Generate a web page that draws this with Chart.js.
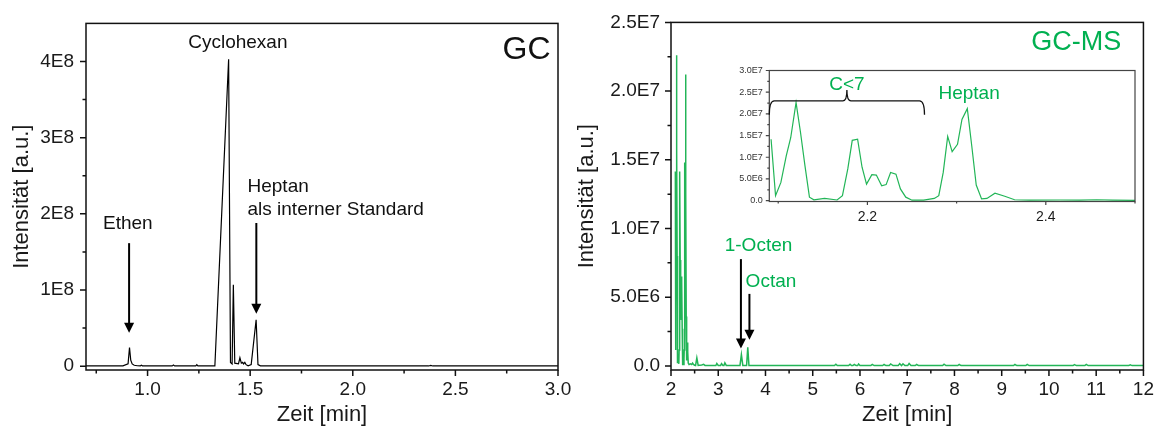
<!DOCTYPE html>
<html lang="de">
<head>
<meta charset="UTF-8">
<title>GC / GC-MS</title>
<script src="https://cdn.jsdelivr.net/npm/chart.js"></script>
<style>
  body { margin: 0; background: #fff; }
  #wrap { position: relative; width: 1162px; height: 430px; }
  #wrap canvas { position: absolute; }
</style>
</head>
<body>
<div id="wrap">
  <canvas id="gcChart" width="580" height="430" style="left:0px;top:0px"></canvas>
  <canvas id="msChart" width="588" height="430" style="left:574px;top:0px"></canvas>
  <canvas id="insetChart" width="415" height="170" style="left:730px;top:55px"></canvas>
</div>
<script>
// GC chromatogram (black)
const gcTime = [0.70, 0.80, 0.88, 0.905, 0.912, 0.918, 0.925, 0.935, 0.95, 0.965, 0.97, 0.975, 1.05, 1.12, 1.126, 1.132,
  1.20, 1.235, 1.24, 1.245, 1.30, 1.328, 1.395, 1.404, 1.412, 1.418, 1.425, 1.443, 1.45, 1.457, 1.463, 1.468, 1.474,
  1.48, 1.49, 1.505, 1.529, 1.538, 1.55, 1.80, 2.10, 2.37, 2.38, 2.39, 2.70, 3.00];
const gcSignal = [3e5, 3e5, 4e5, 3e6, 2.45e7, 8e6, 3e6, 1.2e6, 6e5, 5e5, 1.2e6, 4e5, 3e5, 4e5, 1.5e6, 4e5,
  3e5, 5e5, 2e6, 5e5, 4e5, 5e5, 4.03e8, 5e6, 3e6, 1.07e8, 4e6, 3e6, 1.1e7, 4e6, 5e6, 3e6, 5e6,
  2e6, 5e5, 2e6, 6.1e7, 2e6, 5e5, 3e5, 3e5, 3e5, 1e6, 3e5, 3e5, 3e5];

// GC-MS chromatogram (green), also used for the zoomed inset
const msTime = [2.092, 2.097, 2.103, 2.109, 2.114, 2.120, 2.125, 2.130, 2.135, 2.140, 2.152, 2.166, 2.172, 2.178,
  2.183, 2.189, 2.194, 2.199, 2.205, 2.210, 2.216, 2.221, 2.226, 2.232, 2.237, 2.243, 2.250, 2.263, 2.275, 2.280,
  2.285, 2.290, 2.295, 2.301, 2.306, 2.312, 2.317, 2.322, 2.328, 2.334, 2.343, 2.354, 2.365, 2.382, 2.416, 2.438,
  2.457, 2.475, 2.500, 2.52, 2.547, 2.575, 2.65, 2.69, 2.72, 2.85, 2.95, 2.97, 3.00, 3.05, 3.07, 3.10, 3.12, 3.14,
  3.17, 3.30, 3.46, 3.49, 3.52, 3.60, 3.625, 3.65, 4.00, 4.50, 5.00, 5.46, 5.49, 5.52, 5.76, 5.79, 5.82, 5.85,
  5.88, 5.92, 5.95, 5.97, 6.00, 6.23, 6.26, 6.30, 6.48, 6.51, 6.55, 6.62, 6.65, 6.70, 6.81, 6.84, 6.88, 6.91,
  6.95, 7.01, 7.04, 7.08, 7.17, 7.20, 7.24, 7.75, 7.78, 7.82, 8.07, 8.10, 8.14, 9.25, 9.28, 9.32, 9.51, 9.54,
  9.58, 10.51, 10.54, 10.58, 10.76, 10.79, 10.83, 11.69, 11.72, 11.76, 12.00];
const msSignal = [1.415e7, 1.15e6, 4.2e6, 1.03e7, 1.45e7, 2.26e7, 1.57e7, 8.0e6, 8e5, 2e5, 5e5, 1.5e5, 1.15e6, 7.3e6,
  1.39e7, 1.415e7, 7.7e6, 3.8e6, 6.0e6, 5.9e6, 3.4e6, 3.7e6, 6.5e6, 6.1e6, 2.7e6, 8e5, 1e5, 1e5, 5e5, 1.15e6,
  6.5e6, 1.48e7, 1.13e7, 1.3e7, 1.87e7, 2.12e7, 1.26e7, 3.6e6, 4e5, 5e5, 1.7e6, 1.0e6, 2e5, 1e5, 1.5e5, 1e5,
  2e5, 1e5, 5e4, 3e4, 5.8e5, 4e4, 6e4, 1.1e5, 3e4, 2e4, 2e4, 1.7e5, 3e4, 3e4, 1.6e5, 3e4, 3e4, 2.2e5,
  3e4, 2e4, 3e4, 8.2e5, 3e4, 3e4, 1.35e6, 3e4, 2e4, 2e4, 2e4, 2e4, 1.2e5, 2e4, 2e4, 1.2e5, 2e4, 2e4,
  1e5, 2e4, 2e4, 1.3e5, 2e4, 2e4, 1.1e5, 2e4, 2e4, 1e5, 2e4, 2e4, 1.4e5, 2e4, 2e4, 1.6e5, 2e4, 1.5e5,
  2e4, 2e4, 1.7e5, 2e4, 2e4, 1e5, 2e4, 2e4, 1.2e5, 2e4, 2e4, 1e5, 2e4, 2e4, 1e5, 2e4, 2e4, 1.1e5,
  2e4, 2e4, 9e4, 2e4, 2e4, 1.1e5, 2e4, 2e4, 8e4, 2e4, 2e4];

// ticks
const gcXTicks = [1.0, 1.5, 2.0, 2.5, 3.0];
const gcXLabels = ['1.0', '1.5', '2.0', '2.5', '3.0'];
const gcXMinor = [0.75, 1.25, 1.75, 2.25, 2.75];
const gcYTicks = [0, 1e8, 2e8, 3e8, 4e8];
const gcYLabels = ['0', '1E8', '2E8', '3E8', '4E8'];
const gcYMinor = [0.5e8, 1.5e8, 2.5e8, 3.5e8];

const msXTicks = [2, 3, 4, 5, 6, 7, 8, 9, 10, 11, 12];
const msXLabels = ['2', '3', '4', '5', '6', '7', '8', '9', '10', '11', '12'];
const msXMinor = [2.5, 3.5, 4.5, 5.5, 6.5, 7.5, 8.5, 9.5, 10.5, 11.5];
const msYTicks = [0, 5e6, 1e7, 1.5e7, 2e7, 2.5e7];
const msYLabels = ['0.0', '5.0E6', '1.0E7', '1.5E7', '2.0E7', '2.5E7'];
const msYMinor = [2.5e6, 7.5e6, 1.25e7, 1.75e7, 2.25e7];

const insetXTicks = [2.2, 2.4];
const insetXLabels = ['2.2', '2.4'];
const insetXMinor = [2.1, 2.3, 2.5];
const insetYTicks = [0, 5e6, 1e7, 1.5e7, 2e7, 2.5e7, 3e7];
const insetYLabels = ['0.0', '5.0E6', '1.0E7', '1.5E7', '2.0E7', '2.5E7', '3.0E7'];
const insetYMinor = [2.5e6, 7.5e6, 1.25e7, 1.75e7, 2.25e7, 2.75e7];

const GREEN = '#00b050';
const LINE_GREEN = '#22b557';
const FONT = '"Liberation Sans", Arial, sans-serif';
Chart.defaults.font.family = FONT;

// frame box + outward tick marks (major and minor)
const frameTicks = {
  id: 'frameTicks',
  afterDraw(chart, args, o) {
    const {ctx, chartArea: a, scales: {x, y}} = chart;
    ctx.save();
    ctx.strokeStyle = o.color;
    ctx.lineWidth = o.width;
    ctx.strokeRect(a.left, a.top, a.right - a.left, a.bottom - a.top);
    ctx.beginPath();
    const xt = (v, len) => { const p = x.getPixelForValue(v); ctx.moveTo(p, a.bottom); ctx.lineTo(p, a.bottom + len); };
    const yt = (v, len) => { const p = y.getPixelForValue(v); ctx.moveTo(a.left, p); ctx.lineTo(a.left - len, p); };
    x.ticks.forEach(t => xt(t.value, o.major));
    o.xMinor.forEach(v => xt(v, o.minor));
    y.ticks.forEach(t => yt(t.value, o.major));
    o.yMinor.forEach(v => yt(v, o.minor));
    ctx.stroke();
    ctx.restore();
  }
};

// texts, arrows and brace placed in data coordinates
const marks = {
  id: 'marks',
  afterDraw(chart, args, o) {
    const {ctx, scales: {x, y}} = chart;
    ctx.save();
    (o.texts || []).forEach(t => {
      ctx.font = t.size + 'px ' + FONT;
      ctx.fillStyle = t.color;
      ctx.textAlign = t.align || 'center';
      ctx.textBaseline = 'middle';
      ctx.fillText(t.text, x.getPixelForValue(t.x), y.getPixelForValue(t.y));
    });
    (o.arrows || []).forEach(ar => {
      const px = x.getPixelForValue(ar.x);
      const p1 = y.getPixelForValue(ar.from);
      const p2 = y.getPixelForValue(ar.to);
      ctx.strokeStyle = '#000';
      ctx.fillStyle = '#000';
      ctx.lineWidth = 2;
      ctx.beginPath();
      ctx.moveTo(px, p1);
      ctx.lineTo(px, p2 - 8);
      ctx.stroke();
      ctx.beginPath();
      ctx.moveTo(px - 5, p2 - 10);
      ctx.lineTo(px + 5, p2 - 10);
      ctx.lineTo(px, p2);
      ctx.closePath();
      ctx.fill();
    });
    if (o.brace) {
      const b = o.brace;
      const X1 = x.getPixelForValue(b.x1), X2 = x.getPixelForValue(b.x2), XM = x.getPixelForValue(b.xm);
      const YB = y.getPixelForValue(b.y), YE = y.getPixelForValue(b.yEnd), YT = y.getPixelForValue(b.yTip);
      ctx.strokeStyle = '#111';
      ctx.lineWidth = 1.3;
      ctx.beginPath();
      ctx.moveTo(X1, YE);
      ctx.quadraticCurveTo(X1, YB, X1 + 5, YB);
      ctx.lineTo(XM - 4, YB);
      ctx.quadraticCurveTo(XM, YB, XM, YT);
      ctx.quadraticCurveTo(XM, YB, XM + 4, YB);
      ctx.lineTo(X2 - 5, YB);
      ctx.quadraticCurveTo(X2, YB, X2, YE);
      ctx.stroke();
    }
    ctx.restore();
  }
};

function points(xs, ys) {
  return xs.map((v, i) => ({x: v, y: ys[i]}));
}

function axis(min, max, values, labels, opts) {
  return {
    type: 'linear', min: min, max: max,
    afterBuildTicks: s => { s.ticks = values.map(v => ({value: v})); },
    afterFit: s => { if (s.isHorizontal()) s.height = opts.size; else s.width = opts.size; },
    grid: {display: false, drawTicks: false},
    border: {display: false},
    ticks: {
      autoSkip: false, maxRotation: 0, padding: opts.pad, color: opts.tickColor || '#1a1a1a',
      font: {size: opts.font}, callback: (v, i) => labels[i]
    },
    title: opts.title ? {
      display: true, text: opts.title, color: '#1a1a1a', font: {size: 22},
      padding: opts.titlePad
    } : {display: false}
  };
}

// left: GC
new Chart(document.getElementById('gcChart'), {
  type: 'line',
  data: {
    datasets: [{
      data: points(gcTime, gcSignal),
      borderColor: '#000', borderWidth: 1.2, pointRadius: 0, tension: 0
    }]
  },
  options: {
    responsive: false, animation: false, devicePixelRatio: 1,
    layout: {padding: {top: 20, right: 22, left: 0, bottom: 0}},
    plugins: {
      legend: {display: false}, tooltip: {enabled: false},
      frameTicks: {color: '#111', width: 1.5, major: 6, minor: 3.5, xMinor: gcXMinor, yMinor: gcYMinor},
      marks: {
        texts: [
          {text: 'Cyclohexan', x: 1.44, y: 4.24e8, size: 19, color: '#111'},
          {text: 'GC', x: 2.964, y: 4.15e8, size: 32, color: '#111', align: 'right'},
          {text: 'Ethen', x: 0.904, y: 1.867e8, size: 19, color: '#111'},
          {text: 'Heptan', x: 1.487, y: 2.35e8, size: 19, color: '#111', align: 'left'},
          {text: 'als interner Standard', x: 1.487, y: 2.06e8, size: 19, color: '#111', align: 'left'}
        ],
        arrows: [
          {x: 0.91, from: 1.615e8, to: 0.44e8},
          {x: 1.53, from: 1.88e8, to: 0.69e8}
        ]
      }
    },
    scales: {
      x: axis(0.7, 3.0, gcXTicks, gcXLabels, {size: 60, pad: 8, font: 19, title: 'Zeit [min]', titlePad: {top: 0, bottom: 2}}),
      y: axis(-5e6, 4.5e8, gcYTicks, gcYLabels, {size: 86, pad: 12, font: 19, title: 'Intensität [a.u.]', titlePad: {top: 9, bottom: 0}})
    }
  },
  plugins: [frameTicks, marks]
});

// right: GC-MS
new Chart(document.getElementById('msChart'), {
  type: 'line',
  data: {
    datasets: [{
      data: points(msTime, msSignal),
      borderColor: LINE_GREEN, borderWidth: 1.5, pointRadius: 0, tension: 0
    }]
  },
  options: {
    responsive: false, animation: false, devicePixelRatio: 1,
    layout: {padding: {top: 20, right: 16, left: 0, bottom: 0}},
    plugins: {
      legend: {display: false}, tooltip: {enabled: false},
      frameTicks: {color: '#111', width: 1.5, major: 6, minor: 3.5, xMinor: msXMinor, yMinor: msYMinor},
      marks: {
        texts: [
          {text: 'GC-MS', x: 11.53, y: 2.35e7, size: 27, color: GREEN, align: 'right'},
          {text: '1-Octen', x: 3.137, y: 8.73e6, size: 19, color: GREEN, align: 'left'},
          {text: 'Octan', x: 3.579, y: 6.13e6, size: 19, color: GREEN, align: 'left'}
        ],
        arrows: [
          {x: 3.48, from: 7.77e6, to: 1.26e6},
          {x: 3.66, from: 5.24e6, to: 1.91e6}
        ]
      }
    },
    scales: {
      x: axis(2, 12, msXTicks, msXLabels, {size: 60, pad: 8, font: 19, title: 'Zeit [min]', titlePad: {top: 0, bottom: 2}}),
      y: axis(-3e5, 2.5e7, msYTicks, msYLabels, {size: 97, pad: 11, font: 19, title: 'Intensität [a.u.]', titlePad: {top: 0, bottom: 0}})
    }
  },
  plugins: [frameTicks, marks]
});

// inset: zoom on 2.09 - 2.5 min
new Chart(document.getElementById('insetChart'), {
  type: 'line',
  data: {
    datasets: [{
      data: points(msTime, msSignal),
      borderColor: LINE_GREEN, borderWidth: 1.2, pointRadius: 0, tension: 0
    }]
  },
  options: {
    responsive: false, animation: false, devicePixelRatio: 1,
    layout: {padding: {top: 15.5, right: 10, left: 0, bottom: 0}},
    plugins: {
      legend: {display: false}, tooltip: {enabled: false},
      frameTicks: {color: '#444', width: 1.2, major: 3.5, minor: 2, xMinor: insetXMinor, yMinor: insetYMinor},
      marks: {
        texts: [
          {text: 'C<7', x: 2.177, y: 2.68e7, size: 19, color: GREEN},
          {text: 'Heptan', x: 2.314, y: 2.47e7, size: 19, color: GREEN}
        ],
        brace: {x1: 2.09, x2: 2.264, xm: 2.177, y: 2.3e7, yEnd: 1.98e7, yTip: 2.55e7}
      }
    },
    scales: {
      x: axis(2.09, 2.5, insetXTicks, insetXLabels, {size: 23.5, pad: 7, font: 14}),
      y: axis(-2e5, 3e7, insetYTicks, insetYLabels, {size: 39.3, pad: 6.5, font: 9, tickColor: '#333'})
    }
  },
  plugins: [frameTicks, marks]
});
</script>
</body>
</html>
